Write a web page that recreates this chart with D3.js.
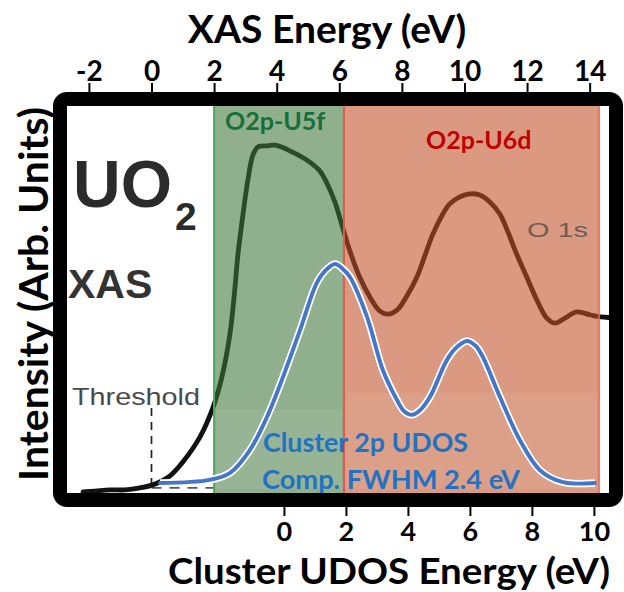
<!DOCTYPE html>
<html>
<head>
<meta charset="utf-8">
<script src="https://cdn.jsdelivr.net/npm/d3@7"></script>
<style>
  html, body { margin: 0; padding: 0; background: #fff; }
  svg { display: block; }
</style>
</head>
<body>
<svg id="chart" width="624" height="592"></svg>
<script>
// Tick values for the two energy axes
const xasTicks = [-2, 0, 2, 4, 6, 8, 10, 12, 14];
const udosTicks = [0, 2, 4, 6, 8, 10];

// O 1s XAS spectrum of UO2 (XAS energy in eV, intensity in arbitrary units)
const xasEnergy = [-2.19, -1.81, -1.33, -0.85, -0.37, 0.04, 0.33, 0.59, 1.00, 1.55,
  1.96, 2.25, 2.51, 2.66, 2.76, 2.92, 3.08, 3.24, 3.40, 3.72,
  3.94, 4.16, 4.42, 4.74, 5.06, 5.38, 5.60, 5.86, 6.11, 6.34,
  6.66, 6.98, 7.30, 7.56, 7.85, 8.16, 8.48, 8.73, 8.99, 9.31,
  9.53, 9.85, 10.17, 10.49, 10.81, 11.13, 11.35, 11.67, 11.99, 12.31,
  12.63, 12.89, 13.21, 13.59, 14.03, 14.35, 14.99];
const xasIntensity = [0.003, 0.005, 0.008, 0.008, 0.013, 0.021, 0.031, 0.044, 0.080, 0.145,
  0.220, 0.300, 0.413, 0.525, 0.615, 0.718, 0.809, 0.873, 0.894, 0.897,
  0.899, 0.894, 0.884, 0.871, 0.855, 0.832, 0.801, 0.752, 0.685, 0.625,
  0.556, 0.506, 0.470, 0.462, 0.473, 0.509, 0.558, 0.612, 0.669, 0.721,
  0.747, 0.765, 0.773, 0.770, 0.752, 0.721, 0.682, 0.617, 0.558, 0.499,
  0.452, 0.439, 0.452, 0.468, 0.460, 0.455, 0.452];

// Broadened cluster 2p UDOS (cluster energy in eV, intensity in arbitrary units)
const udosEnergy = [-4.00, -2.39, -1.74, -1.10, -0.55, -0.03, 0.52, 1.06, 1.35, 1.65,
  1.90, 2.13, 2.68, 3.19, 3.65, 3.87, 4.13, 4.39, 4.71, 5.26,
  5.58, 5.90, 6.19, 6.42, 6.97, 7.61, 8.26, 9.00, 10.03];
const udosIntensity = [0.026, 0.034, 0.052, 0.111, 0.196, 0.300, 0.421, 0.543, 0.576, 0.592,
  0.579, 0.558, 0.455, 0.318, 0.240, 0.212, 0.202, 0.214, 0.248, 0.344,
  0.377, 0.393, 0.380, 0.351, 0.248, 0.137, 0.059, 0.028, 0.026];

// Orbital-character bands on the XAS energy axis
const bandNames = ["O2p-U5f", "O2p-U6d"];
const bandStart = [2.0, 6.15];
const bandEnd = [6.15, 14.3];
const bandFill = ["rgb(63,118,58)", "rgb(192,80,37)"];
const bandText = ["#17703a", "#c00000"];
const bandEdge = ["#4fa862", "#e8584a"];

const thresholdEnergy = 0;

const svg = d3.select("#chart");
const inner = { left: 67, right: 610, top: 106, bottom: 493 };

const xXas = d3.scaleLinear().domain([-2.70, 14.65]).range([inner.left, inner.right]);
const xUdos = d3.scaleLinear().domain([-7.0, 10.52]).range([inner.left, inner.right]);
const y = d3.scaleLinear().domain([0, 1]).range([inner.bottom, inner.top]);

const titleFont = "Lato, 'Open Sans', sans-serif";
const insetFont = "'Liberation Sans', Arial, sans-serif";

svg.append("rect").attr("width", 624).attr("height", 592).attr("fill", "#fff");

// Inset labels of the XAS panel
svg.append("text").attr("x", 73).attr("y", 207)
  .attr("font-family", insetFont).attr("font-weight", "bold").attr("font-size", 66)
  .attr("fill", "#2b2b2b").text("UO");
svg.append("text").attr("x", 175).attr("y", 230)
  .attr("font-family", insetFont).attr("font-weight", "bold").attr("font-size", 39)
  .attr("fill", "#2b2b2b").text("2");
svg.append("text").attr("x", 68).attr("y", 298)
  .attr("font-family", insetFont).attr("font-weight", "bold").attr("font-size", 41)
  .attr("fill", "#333").text("XAS");
svg.append("text").attr("x", 72).attr("y", 405)
  .attr("font-family", insetFont).attr("font-size", 24)
  .attr("textLength", 128).attr("lengthAdjust", "spacingAndGlyphs")
  .attr("fill", "#4a4a4a").text("Threshold");

// Threshold marker
const yBase = y(xasIntensity[5]) + 3;
svg.append("line")
  .attr("x1", xXas(thresholdEnergy)).attr("x2", xXas(thresholdEnergy))
  .attr("y1", 408).attr("y2", yBase)
  .attr("stroke", "#222").attr("stroke-width", 1.7).attr("stroke-dasharray", "8,6");
svg.append("line")
  .attr("x1", xXas(thresholdEnergy)).attr("x2", xXas(bandStart[0]))
  .attr("y1", yBase).attr("y2", yBase)
  .attr("stroke", "#555").attr("stroke-width", 1.6).attr("stroke-dasharray", "10,8");

// XAS spectrum
const xasData = xasEnergy.map((e, i) => [e, xasIntensity[i]]);
svg.append("path")
  .datum(xasData)
  .attr("fill", "none")
  .attr("stroke", "#111")
  .attr("stroke-width", 4.8)
  .attr("stroke-linejoin", "round")
  .attr("stroke-linecap", "round")
  .attr("d", d3.line().x(d => xXas(d[0])).y(d => y(d[1])).curve(d3.curveCatmullRom.alpha(0.5)));

// Translucent bands
const bands = bandNames.map((n, i) => ({ name: n, start: bandStart[i], end: bandEnd[i], i }));
svg.selectAll("rect.band").data(bands).join("rect")
  .attr("class", "band")
  .attr("x", d => xXas(d.start))
  .attr("y", inner.top)
  .attr("width", d => xXas(d.end) - xXas(d.start))
  .attr("height", inner.bottom - inner.top)
  .attr("fill", d => bandFill[d.i])
  .attr("fill-opacity", 0.58);

// slightly lighter lower part of each band
svg.selectAll("rect.bandlow").data(bands).join("rect")
  .attr("class", "bandlow")
  .attr("x", d => xXas(d.start) + 2)
  .attr("y", d => d.i === 0 ? 410 : 393)
  .attr("width", d => xXas(d.end) - xXas(d.start) - 4)
  .attr("height", d => inner.bottom - (d.i === 0 ? 410 : 393) - 4)
  .attr("fill", "#fff")
  .attr("fill-opacity", 0.07);

// Band edges
svg.selectAll("line.edge").data(bands).join("line")
  .attr("class", "edge")
  .attr("x1", d => xXas(d.start)).attr("x2", d => xXas(d.start))
  .attr("y1", inner.top).attr("y2", inner.bottom)
  .attr("stroke", d => bandEdge[d.i]).attr("stroke-width", 2);
svg.append("line")
  .attr("x1", xXas(bandEnd[1])).attr("x2", xXas(bandEnd[1]))
  .attr("y1", inner.top).attr("y2", inner.bottom)
  .attr("stroke", "#e8685a").attr("stroke-width", 1.6);

// Spectrum label
svg.append("text").attr("x", 527).attr("y", 237)
  .attr("font-family", insetFont).attr("font-size", 20)
  .attr("textLength", 61).attr("lengthAdjust", "spacingAndGlyphs")
  .attr("fill", "#6e5c56").text("O 1s");

// Band labels
svg.selectAll("text.bandlabel").data(bands).join("text")
  .attr("class", "bandlabel")
  .attr("x", d => d.i === 0 ? 225 : 426)
  .attr("y", d => d.i === 0 ? 130 : 149)
  .attr("font-family", titleFont).attr("font-weight", "bold").attr("font-size", 25)
  .attr("fill", d => bandText[d.i])
  .text(d => d.name);

// Cluster UDOS curve with white outline
const udosData = udosEnergy.map((e, i) => [e, udosIntensity[i]]);
const udosLine = d3.line().x(d => xUdos(d[0])).y(d => y(d[1])).curve(d3.curveCatmullRom.alpha(0.5));
svg.append("path").datum(udosData)
  .attr("fill", "none").attr("stroke", "#fff").attr("stroke-width", 7.5)
  .attr("stroke-linejoin", "round").attr("d", udosLine);
svg.append("path").datum(udosData)
  .attr("fill", "none").attr("stroke", "#4677c6").attr("stroke-width", 4)
  .attr("stroke-linejoin", "round").attr("stroke-linecap", "round").attr("d", udosLine);

svg.append("text").attr("x", 263).attr("y", 452)
  .attr("font-family", titleFont).attr("font-weight", "bold").attr("font-size", 26)
  .attr("textLength", 205).attr("lengthAdjust", "spacingAndGlyphs")
  .attr("fill", "#2272c3").text("Cluster 2p UDOS");
svg.append("text").attr("x", 262).attr("y", 489)
  .attr("font-family", titleFont).attr("font-weight", "bold").attr("font-size", 26)
  .attr("textLength", 258).attr("lengthAdjust", "spacingAndGlyphs")
  .attr("fill", "#2272c3").text("Comp. FWHM 2.4 eV");

// Axes
const topAxis = svg.append("g")
  .attr("transform", `translate(0,${inner.top})`)
  .call(d3.axisTop(xXas).tickValues(xasTicks).tickSize(23).tickPadding(2).tickFormat(d3.format("d")));
const bottomAxis = svg.append("g")
  .attr("transform", `translate(0,${inner.bottom})`)
  .call(d3.axisBottom(xUdos).tickValues(udosTicks).tickSize(23).tickPadding(6).tickFormat(d3.format("d")));
[topAxis, bottomAxis].forEach(g => {
  g.select(".domain").remove();
  g.selectAll(".tick line").attr("stroke", "#000").attr("stroke-width", 2);
  g.selectAll(".tick text")
    .attr("font-family", titleFont).attr("font-weight", "bold").attr("font-size", 27)
    .attr("fill", "#000");
});
topAxis.selectAll(".tick text").attr("font-size", 28).text(d => d < 0 ? "-" + Math.abs(d) : d);

// Axis titles
svg.append("text").attr("x", 389).attr("y", 584).attr("text-anchor", "middle")
  .attr("font-family", titleFont).attr("font-weight", "bold").attr("font-size", 37)
  .attr("textLength", 442).attr("lengthAdjust", "spacingAndGlyphs")
  .attr("fill", "#000").text("Cluster UDOS Energy (eV)");
svg.append("text").attr("x", 327).attr("y", 43).attr("text-anchor", "middle")
  .attr("font-family", titleFont).attr("font-weight", "bold").attr("font-size", 39)
  .attr("fill", "#000").text("XAS Energy (eV)");
svg.append("text").attr("transform", "translate(48,294) rotate(-90)").attr("text-anchor", "middle")
  .attr("font-family", titleFont).attr("font-weight", "bold").attr("font-size", 41)
  .attr("fill", "#000").text("Intensity (Arb. Units)");

// Heavy frame
svg.append("rect")
  .attr("x", 60).attr("y", 99).attr("width", 556).attr("height", 401)
  .attr("rx", 7).attr("ry", 7)
  .attr("fill", "none").attr("stroke", "#000").attr("stroke-width", 14);
</script>
</body>
</html>
